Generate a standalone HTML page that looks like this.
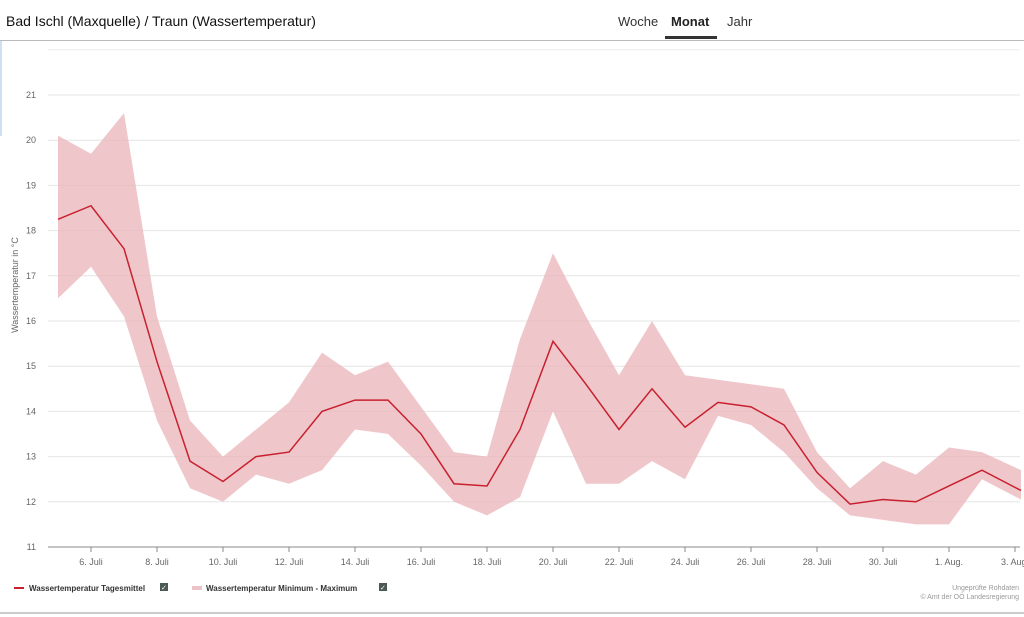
<!DOCTYPE html>
<html><head><meta charset="utf-8"><style>
body{margin:0;width:1024px;height:617px;background:#fff;font-family:"Liberation Sans",sans-serif;overflow:hidden;position:relative}
.hdr{position:absolute;left:0;top:0;width:1024px;height:40px;border-bottom:1px solid #bbb}
.title{position:absolute;left:6px;top:13px;font-size:14px;color:#111}
.tab{position:absolute;top:14px;font-size:13px;color:#333}
.bot{position:absolute;left:0;top:612px;width:1024px;height:2px;background:#ccc}
</style></head><body>
<div class="hdr"><div class="title">Bad Ischl (Maxquelle) / Traun (Wassertemperatur)</div>
<div class="tab" style="left:618px">Woche</div>
<div class="tab" style="left:671px;font-weight:bold;color:#222">Monat</div>
<div style="position:absolute;left:665px;top:36px;width:52px;height:3px;background:#333"></div>
<div class="tab" style="left:727px">Jahr</div></div>
<div style="position:absolute;left:0;top:41px;width:2px;height:95px;background:#cfe0f0"></div>
<svg id="c" width="1024" height="617" style="position:absolute;left:0;top:0"></svg>
<div class="bot"></div>
<script>
const mean=[18.25,18.55,17.6,15.1,12.9,12.45,13.0,13.1,14.0,14.25,14.25,13.5,12.4,12.35,13.6,15.55,14.6,13.6,14.5,13.65,14.2,14.1,13.7,12.65,11.95,12.05,12.0,12.35,12.7,12.25];
const mx=[20.1,19.7,20.6,16.1,13.8,13.0,13.6,14.2,15.3,14.8,15.1,14.1,13.1,13.0,15.6,17.5,16.1,14.8,16.0,14.8,14.7,14.6,14.5,13.1,12.3,12.9,12.6,13.2,13.1,12.7];
const mn=[16.5,17.2,16.1,13.8,12.3,12.0,12.6,12.4,12.7,13.6,13.5,12.8,12.0,11.7,12.1,14.0,12.4,12.4,12.9,12.5,13.9,13.7,13.1,12.3,11.7,11.6,11.5,11.5,12.5,12.05];
const X=i=>58+i*33, Y=v=>547-(v-11)*45.2;
let s='';
for(let v=11;v<=21;v++){s+=`<line x1="48" x2="1020" y1="${Y(v)}" y2="${Y(v)}" stroke="${v==11?'#888':'#e6e6e6'}"/>`;
s+=`<text x="36" y="${Y(v)+3}" font-size="9" fill="#666" text-anchor="end">${v}</text>`;}
s+=`<line x1="48" x2="1020" y1="${Y(22)}" y2="${Y(22)}" stroke="#eee"/>`;
const labs=["6. Juli","8. Juli","10. Juli","12. Juli","14. Juli","16. Juli","18. Juli","20. Juli","22. Juli","24. Juli","26. Juli","28. Juli","30. Juli","1. Aug.","3. Aug."];
labs.forEach((l,k)=>{const x=X(1+2*k);s+=`<line x1="${x}" x2="${x}" y1="547" y2="552" stroke="#888"/><text x="${x}" y="565" font-size="9" fill="#666" text-anchor="middle">${l}</text>`;});
const n=mean.length,xs=i=>i==n-1?1021:X(i);
let a=mx.map((v,i)=>xs(i)+','+Y(v)).join(' ')+' '+mn.map((v,i)=>xs(i)+','+Y(v)).reverse().join(' ');
s+=`<polygon points="${a}" fill="#e9b4ba" fill-opacity="0.75"/>`;
s+=`<polyline points="${mean.map((v,i)=>xs(i)+','+Y(v)).join(' ')}" fill="none" stroke="#c8202e" stroke-width="1.5"/>`;
s+=`<text transform="translate(18,285) rotate(-90)" font-size="9" fill="#666" text-anchor="middle">Wassertemperatur in °C</text>`;
s+=`<line x1="14" x2="24" y1="588" y2="588" stroke="#c8202e" stroke-width="2"/><text x="29" y="591" font-size="8" font-weight="bold" fill="#333">Wassertemperatur Tagesmittel</text>`;
s+=`<rect x="160" y="583" width="8" height="8" fill="#4a5a55"/><text x="161" y="590" font-size="7" fill="#fff">✓</text>`;
s+=`<rect x="192" y="586" width="10" height="4" fill="#ecc3c8"/><text x="206" y="591" font-size="8" font-weight="bold" fill="#333">Wassertemperatur Minimum - Maximum</text>`;
s+=`<rect x="379" y="583" width="8" height="8" fill="#4a5a55"/><text x="380" y="590" font-size="7" fill="#fff">✓</text>`;
s+=`<text x="1019" y="590" font-size="7" fill="#999" text-anchor="end">Ungeprüfte Rohdaten</text><text x="1019" y="599" font-size="7" fill="#999" text-anchor="end">© Amt der OÖ Landesregierung</text>`;
document.getElementById('c').innerHTML=s;
</script>
</body></html>
